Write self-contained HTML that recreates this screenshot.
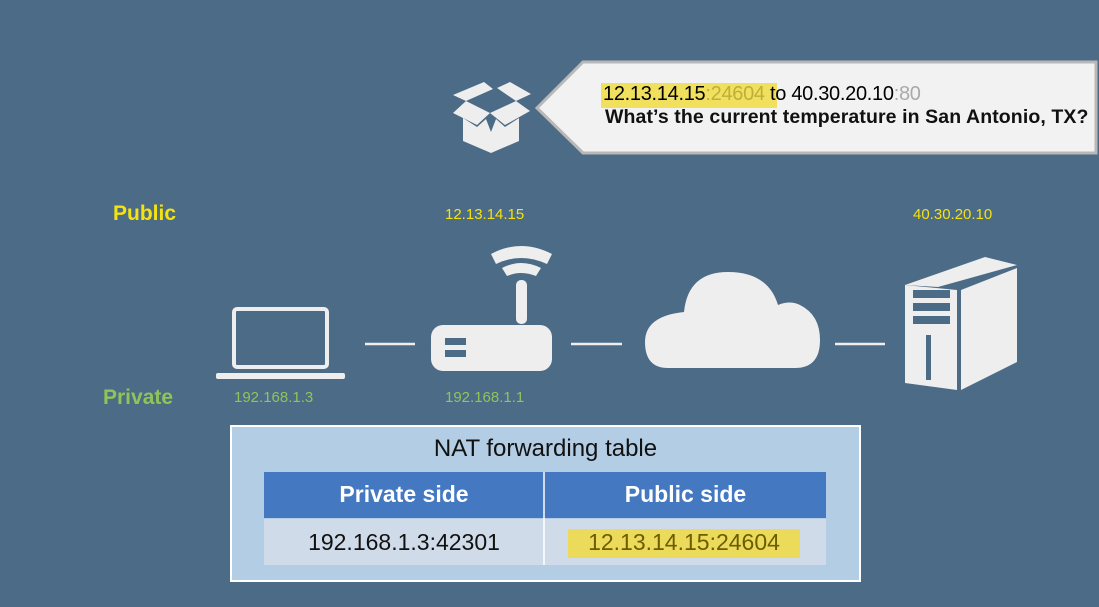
<!DOCTYPE html>
<html><head><style>
body{margin:0;width:1099px;height:607px;background:#4b6b86;overflow:hidden;position:relative;font-family:"Liberation Sans",sans-serif}
.t{position:absolute;white-space:nowrap}
</style></head><body>
<svg width="1099" height="607" style="position:absolute;left:0;top:0">
<!-- callout -->
<polygon points="583,62 1096,62 1096,153 583,153 537,108" fill="#f2f2f2" stroke="#b8b8b8" stroke-width="3"/>
<!-- package -->
<g fill="#eeeeee">
<polygon points="453,95 484,82 493,89 466,101"/>
<polygon points="497,88 510,82 531,94 516,101"/>
<polygon points="453,113 466,101 490,113 477,125"/>
<polygon points="490,113 516,101 530,111 505,125"/>
<polygon points="463,118 477,127 486,119 491,132 491,153 463,141"/>
<polygon points="519,118 505,127 496,119 491,132 491,153 519,141"/>
</g>
<!-- laptop -->
<rect x="234" y="309" width="93" height="58" rx="3" fill="none" stroke="#eeeeee" stroke-width="4"/>
<rect x="216" y="373" width="129" height="6" rx="2" fill="#eeeeee"/>
<!-- lines -->
<g stroke="#eeeeee" stroke-width="2.5"><line x1="365" y1="344" x2="415" y2="344"/><line x1="571" y1="344" x2="622" y2="344"/><line x1="835" y1="344" x2="885" y2="344"/></g>
<!-- router -->
<rect x="431" y="325" width="121" height="46" rx="12" fill="#eeeeee"/>
<rect x="445" y="338" width="21" height="7" fill="#4b6b86"/><rect x="445" y="350" width="21" height="7" fill="#4b6b86"/>
<rect x="516" y="280" width="11" height="44" rx="5" fill="#eeeeee"/>
<path d="M491,254 Q521,238 552,254 L547,264 Q521,252 496,264Z" fill="#eeeeee"/>
<path d="M502,268 Q521,258 541,268 L536,276 Q521,270 507,276Z" fill="#eeeeee"/>
<!-- cloud -->
<path d="M668,368 Q645,368 645,342 Q645,316 684,312 Q688,272 728,272 Q768,272 778,305 Q790,300 800,305 Q820,315 820,340 Q820,368 795,368Z" fill="#eeeeee"/>
<!-- server -->
<polygon points="905,285 985,257 1017,265 938,287" fill="#eeeeee"/>
<polygon points="905,285 957,290 957,390 905,383" fill="#eeeeee"/>
<polygon points="961,290 1017,268 1017,362 961,390" fill="#eeeeee"/>
<g fill="#4b6b86"><rect x="913" y="290" width="37" height="8"/><rect x="913" y="303" width="37" height="8"/><rect x="913" y="316" width="37" height="8"/><rect x="926" y="335" width="5" height="45"/></g>
<!-- table box -->
<rect x="231" y="426" width="629" height="155" fill="#b3cde4" stroke="#ffffff" stroke-width="2"/>
<rect x="264" y="472" width="562" height="46" fill="#4479c1"/>
<rect x="264" y="519" width="562" height="46" fill="#d0dbe9"/>
<line x1="544" y1="472" x2="544" y2="565" stroke="#fff" stroke-width="1.5"/>
<rect x="568" y="529" width="232" height="29" fill="#ecdb5a"/>
<rect x="601" y="83" width="176" height="25" fill="#f0e05e"/>
</svg>
<div class="t" style="left:603px;top:83px;font-size:20px;color:#000;letter-spacing:-0.3px">12.13.14.15<span style="color:#bfae3a">:24604</span> to 40.30.20.10<span style="color:#aaa">:80</span></div>
<div class="t" style="left:605px;top:106px;font-size:19.5px;font-weight:bold;color:#111;letter-spacing:0.1px">What’s the current temperature in San Antonio, TX?</div>
<div class="t" style="left:113px;top:202px;font-size:21px;font-weight:bold;color:#f5e20f">Public</div>
<div class="t" style="left:445px;top:206px;font-size:15px;color:#f5e20f">12.13.14.15</div>
<div class="t" style="left:913px;top:206px;font-size:15px;color:#f5e20f">40.30.20.10</div>
<div class="t" style="left:103px;top:386px;font-size:21px;font-weight:bold;color:#8fc45a">Private</div>
<div class="t" style="left:234px;top:389px;font-size:15px;color:#8fc45a">192.168.1.3</div>
<div class="t" style="left:445px;top:389px;font-size:15px;color:#8fc45a">192.168.1.1</div>
<div class="t" style="left:231px;width:629px;text-align:center;top:435px;font-size:24px;color:#111">NAT forwarding table</div>
<div class="t" style="left:264px;width:280px;text-align:center;top:481px;font-size:23px;font-weight:bold;color:#fff">Private side</div>
<div class="t" style="left:545px;width:281px;text-align:center;top:481px;font-size:23px;font-weight:bold;color:#fff">Public side</div>
<div class="t" style="left:264px;width:280px;text-align:center;top:529px;font-size:23px;color:#111">192.168.1.3:42301</div>
<div class="t" style="left:568px;width:232px;text-align:center;top:529px;font-size:23px;color:#6b5d00">12.13.14.15:24604</div>
</body></html>
